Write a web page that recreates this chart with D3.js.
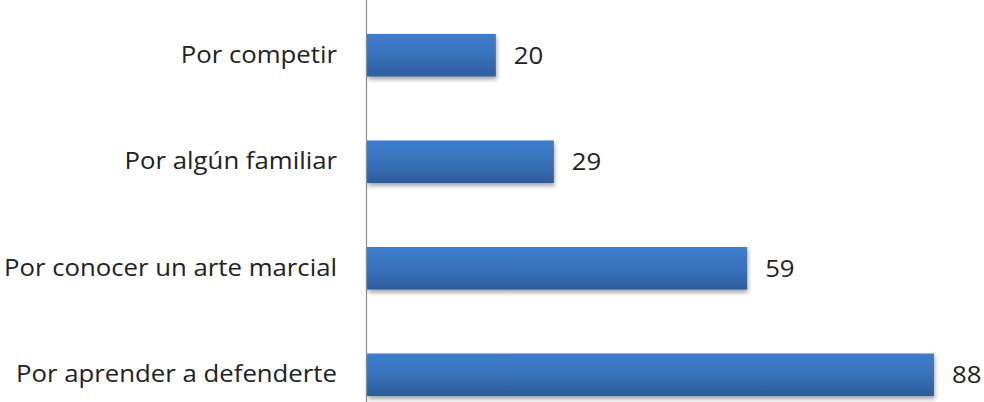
<!DOCTYPE html>
<html>
<head>
<meta charset="utf-8">
<script src="https://cdn.jsdelivr.net/npm/d3@7"></script>
<style>
  body { margin: 0; background: #fff; }
  text { font-family: "Open Sans", sans-serif; }
</style>
</head>
<body>
<div id="chart"></div>
<script>
// Chart data
const categories = ["Por competir", "Por algún familiar", "Por conocer un arte marcial", "Por aprender a defenderte"];
const values = [20, 29, 59, 88];

const width = 984, height = 402;
const axisX = 367;
const sx = 1.12; // the original text is a bit stretched horizontally

const svg = d3.select("#chart")
    .append("svg")
    .attr("width", width)
    .attr("height", height);

const defs = svg.append("defs");

// bar gradient, lighter top / darker bottom
const grad = defs.append("linearGradient")
    .attr("id", "barGrad")
    .attr("x1", 0).attr("y1", 0).attr("x2", 0).attr("y2", 1);
grad.append("stop").attr("offset", "0%").attr("stop-color", "#3d7dcc");
grad.append("stop").attr("offset", "55%").attr("stop-color", "#3870b8");
grad.append("stop").attr("offset", "100%").attr("stop-color", "#2d5c9c");

// soft shadow
const shadow = defs.append("filter")
    .attr("id", "shadow")
    .attr("x", "-5%").attr("y", "-20%").attr("width", "115%").attr("height", "150%");
shadow.append("feGaussianBlur").attr("in", "SourceAlpha").attr("stdDeviation", 2);
shadow.append("feOffset").attr("dx", 1).attr("dy", 3).attr("result", "off");
shadow.append("feComponentTransfer").append("feFuncA").attr("type", "linear").attr("slope", 0.35);
const merge = shadow.append("feMerge");
merge.append("feMergeNode");
merge.append("feMergeNode").attr("in", "SourceGraphic");

// scales
const xScale = d3.scaleLinear()
    .domain([0, 88])
    .range([axisX, axisX + 567]);

const yScale = d3.scaleBand()
    .domain(categories)
    .range([-30, 460])
    .padding(0.6);

// bars
svg.selectAll(".bar")
    .data(categories)
    .enter()
    .append("rect")
    .attr("class", "bar")
    .attr("x", xScale(0))
    .attr("y", d => yScale(d))
    .attr("width", (d, i) => xScale(values[i]) - xScale(0))
    .attr("height", yScale.bandwidth())
    .attr("fill", "url(#barGrad)")
    .attr("filter", "url(#shadow)");

// value labels
svg.selectAll(".val")
    .data(categories)
    .enter()
    .append("text")
    .attr("class", "val")
    .attr("transform", (d, i) => `translate(${xScale(values[i]) + 18},${yScale(d) + yScale.bandwidth() / 2}) scale(${sx},1)`)
    .attr("dy", "0.36em")
    .attr("font-size", 23)
    .attr("fill", "#222")
    .text((d, i) => values[i]);

// category axis (no ticks), just the line
const yAxis = d3.axisLeft(yScale).tickSize(0).tickPadding(0);
const gy = svg.append("g")
    .attr("transform", `translate(${axisX},0)`)
    .call(yAxis);
gy.select(".domain").remove();
gy.selectAll(".tick text")
    .attr("x", null)
    .attr("transform", `translate(-30,0) scale(${sx},1)`)
    .attr("font-size", 23)
    .attr("fill", "#222")
    .attr("font-family", "Open Sans, sans-serif");

svg.append("line")
    .attr("x1", axisX - 0.5).attr("x2", axisX - 0.5)
    .attr("y1", 0).attr("y2", height)
    .attr("stroke", "#8c8c8c")
    .attr("stroke-width", 1.2);
</script>
</body>
</html>
